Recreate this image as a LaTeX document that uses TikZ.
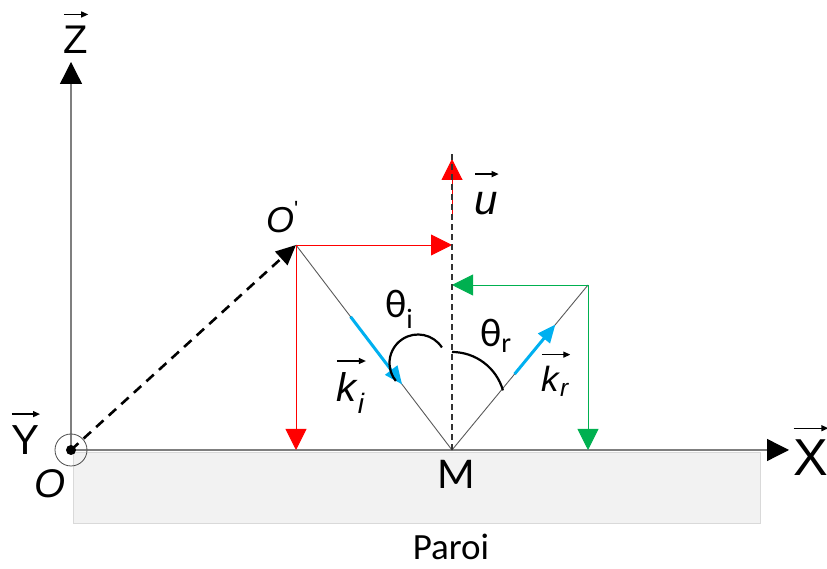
\documentclass[tikz,border=0pt]{standalone}
\usepackage{fontspec}
\setmainfont{Liberation Sans}
\newfontfamily\calfont{Carlito}
\usetikzlibrary{arrows.meta,calc}
\definecolor{rfred}{HTML}{FF0000}
\definecolor{rfgreen}{HTML}{00B050}
\definecolor{rfblue}{HTML}{00B0F0}
\definecolor{axgray}{HTML}{7F7F7F}
\definecolor{wallgray}{HTML}{F2F2F2}
\definecolor{wallline}{HTML}{D9D9D9}
\newlength\vlabwd
\newcommand{\vlab}[1]{%
  \settowidth{\vlabwd}{#1}%
  \vbox{\offinterlineskip
    \hbox{\tikz\draw[line width=1.3pt,-{Triangle[length=7pt,width=6pt]}] (0pt,0pt) -- (\vlabwd,0pt);}%
    \kern9pt\hbox{\vphantom{Z}#1}}}

\begin{document}
\begin{tikzpicture}[x=1pt,y=1pt,
    >={Triangle[length=21pt,width=21pt]},
    axis/.style={axgray,line width=1.3pt,-{Triangle[length=22pt,width=22pt,color=black]}},
    ray/.style={black!65,line width=0.9pt},
    proj/.style={line width=0.9pt,->},
    wave/.style={rfblue,line width=3pt,-{Triangle[length=18pt,width=15pt]}},
    angarc/.style={line width=2.2pt},
    lbl/.style={inner sep=0pt,anchor=base,font=\fontsize{40}{42}\selectfont},
    cal/.style={inner sep=0pt,anchor=base,font=\calfont\fontsize{40}{42}\selectfont}]

  \useasboundingbox (0,0) rectangle (827,569);

  % --- points ---
  \coordinate (O)    at (71,119);
  \coordinate (Op)   at (296,324);
  \coordinate (M)    at (452,119);
  \coordinate (R)    at (588,284);
  \coordinate (Ztip) at (71,507);
  \coordinate (Xtip) at (789,119);
  \coordinate (Ntop) at (452,417);
  \coordinate (Ubot) at (452,349);
  \coordinate (Utop) at (452,410);
  \coordinate (Ci)   at (418,206);
  \coordinate (Cr)   at (452,164);

  % --- wall ---
  \fill[wallgray,draw=wallline,line width=0.8pt] (73,46) rectangle (760,117);

  % --- axes ---
  \draw[axis] (O) -- (Ztip);
  \draw[axis] (O) -- (Xtip);
  \draw[black!70,line width=0.8pt] (O) circle[radius=16];
  \fill (O) circle[radius=5];

  % --- rays ---
  \draw[ray] (Op) -- (M) -- (R);
  \draw[line width=2.6pt,dash pattern=on 10pt off 7pt,
        -{Triangle[length=20pt,width=18pt]}] (O) -- (Op);

  % --- projections ---
  \draw[rfred,proj]   (Op) -- (Op -| M);
  \draw[rfred,proj]   (Op) -- (Op |- M);
  \draw[rfgreen,proj] (R) -- (R -| M);
  \draw[rfgreen,proj] (R) -- (R |- M);

  % --- normal and u ---
  \draw[rfred,line width=1pt,->] (Ubot) -- (Utop);
  \draw[black!80,line width=1.4pt,dash pattern=on 6pt off 4pt] (M) -- (Ntop);

  % --- wave vectors ---
  \draw[wave] ($(Op)!0.35!(M)$) -- ($(Op)!0.68!(M)$);
  \draw[wave] ($(M)!0.46!(R)$) -- ($(M)!0.76!(R)$);

  % --- angles ---
  \draw[angarc] ([shift={(33:28.5)}]Ci) arc[start angle=33,end angle=219,radius=28.5];
  \draw[angarc] ([shift={(90:53)}]Cr) arc[start angle=90,end angle=16,radius=53];

  % --- labels ---
  \node[lbl] (Zlab) at (76,515) {\vlab{Z}};
  \node[lbl,font=\fontsize{42}{44}\selectfont] (Ylab) at (26,114) {\vlab{Y}};
  \node[lbl] (Olab) at (50,71) {\textit{O}};
  \node[lbl,font=\fontsize{52}{54}\selectfont] (Xlab) at (811,93) {\vlab{X}};
  \node[lbl,anchor=base west,font=\fontsize{36}{38}\selectfont] (Oplab) at (266,336)
       {\textit{O}\raisebox{0.45em}{\fontsize{22}{22}\selectfont\textquotesingle}};
  \node[lbl,font=\fontsize{42}{44}\selectfont] (ulab) at (487,354) {\vlab{\textit{u}}};
  \node[lbl,anchor=base west] (kilab) at (336,167) {\vlab{\textit{k}\textsubscript{\textit{i}}}};
  \node[lbl,anchor=base west,font=\fontsize{35}{37}\selectfont] (krlab) at (541,177) {\vlab{\textit{k}\textsubscript{\textit{r}}}};
  \node[cal,anchor=base west] (tilab) at (385,251) {θ\textsubscript{i}};
  \node[cal,anchor=base west] (trlab) at (480,222) {θ\textsubscript{r}};
  \node[cal,font=\calfont\fontsize{44}{46}\selectfont] (Mlab) at (456,80) {M};
  \node[cal,font=\calfont\fontsize{37}{39}\selectfont] (wall) at (451,9) {Paroi};

\end{tikzpicture}
\end{document}
